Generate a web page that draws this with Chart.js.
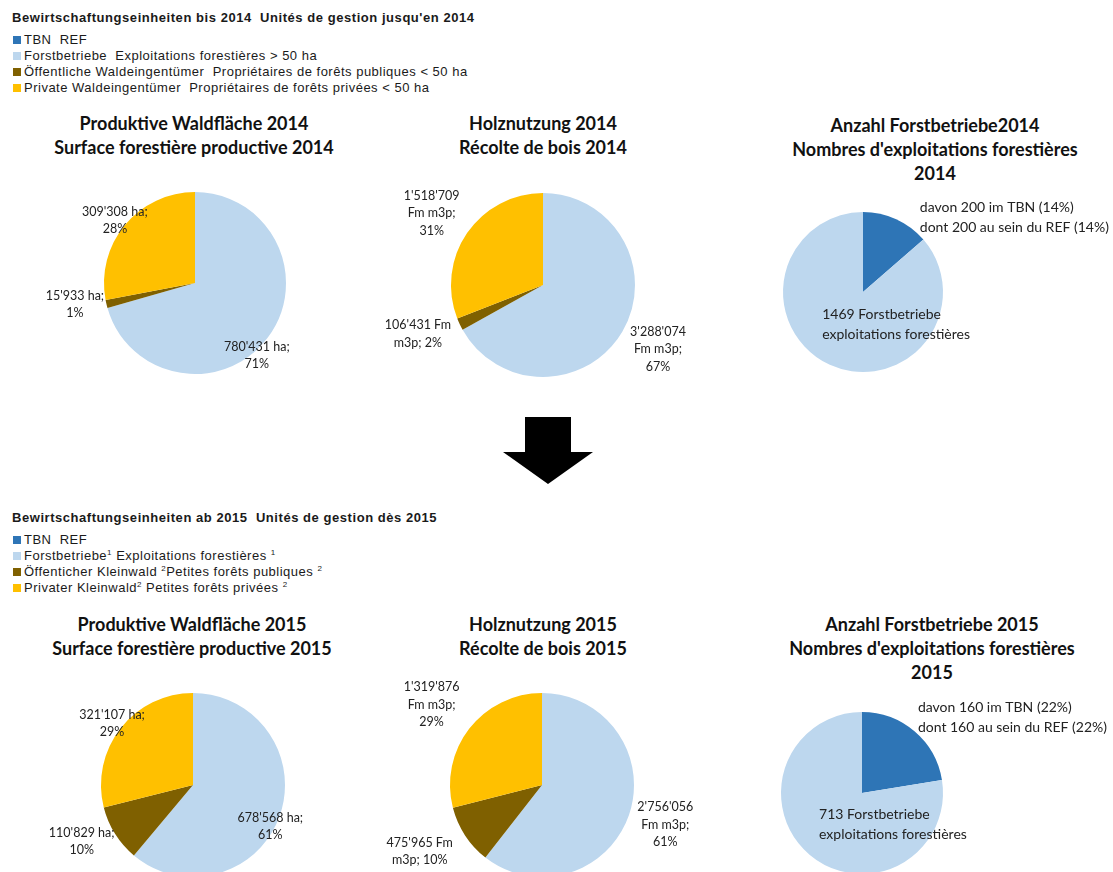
<!DOCTYPE html>
<html><head><meta charset="utf-8">
<script src="https://cdn.jsdelivr.net/npm/chart.js@4"></script>
<style>
html,body{margin:0;padding:0;width:1113px;height:872px;overflow:hidden;background:#fff;}
.leg{position:absolute;left:0;top:0;font-family:"Liberation Sans",Arial,sans-serif;font-size:13px;letter-spacing:0.5px;color:#1a1a1a;}
.lt{position:absolute;left:12px;white-space:pre;font-weight:bold;line-height:14px;letter-spacing:0.55px;}
.row{position:absolute;left:13px;white-space:pre;line-height:14px;}
.sw{display:inline-block;width:8px;height:8px;margin-right:3px;vertical-align:0px;}
sup{font-size:8px;vertical-align:5px;line-height:0;}
.title{position:absolute;font-family:Lato,"Open Sans",sans-serif;font-weight:bold;font-size:18px;color:#111;text-align:center;line-height:24px;white-space:nowrap;transform:translateX(-50%);}
canvas{position:absolute;}
</style></head><body>
<svg style="position:absolute;left:0;top:0" width="1113" height="872"><polygon points="525,417 571,417 571,452 593,452 548,484 503,452 525,452" fill="#000"/></svg>
<script>
// ---- Data ----
const sliceColors = ['#BDD7EE', '#7F6000', '#FFC000'];
const countColors = ['#2E75B6', '#BDD7EE'];
const legendColors = ['#2E75B6', '#BDD7EE', '#7F6000', '#FFC000'];

const legend2014Title = "Bewirtschaftungseinheiten bis 2014  Unités de gestion jusqu'en 2014";
const legend2014Items = [
  'TBN  REF',
  'Forstbetriebe  Exploitations forestières > 50 ha',
  'Öffentliche Waldeingentümer  Propriétaires de forêts publiques < 50 ha',
  'Private Waldeingentümer  Propriétaires de forêts privées < 50 ha'
];
const legend2015Title = "Bewirtschaftungseinheiten ab 2015  Unités de gestion dès 2015";
const legend2015Items = [
  'TBN  REF',
  'Forstbetriebe<sup>1</sup> Exploitations forestières <sup>1</sup>',
  'Öffenticher Kleinwald <sup>2</sup>Petites forêts publiques <sup>2</sup>',
  'Privater Kleinwald<sup>2</sup> Petites forêts privées <sup>2</sup>'
];

const ownerCategories2014 = ['Forstbetriebe', 'Öffentliche Waldeingentümer', 'Private Waldeingentümer'];
const ownerCategories2015 = ['Forstbetriebe', 'Öffenticher Kleinwald', 'Privater Kleinwald'];
const area2014 = [780431, 15933, 309308];
const harvest2014 = [3288074, 106431, 1518709];
const area2015 = [678568, 110829, 321107];
const harvest2015 = [2756056, 475965, 1319876];

const countCategories = ['TBN', 'Forstbetriebe'];
const enterpriseTotal2014 = 1469;
const enterpriseTBN2014 = 200;
const enterpriseTotal2015 = 713;
const enterpriseTBN2015 = 160;

const titles = [
  ['Produktive Waldfläche 2014', 'Surface forestière productive 2014'],
  ['Holznutzung 2014', 'Récolte de bois 2014'],
  ['Anzahl Forstbetriebe2014', "Nombres d'exploitations forestières", '2014'],
  ['Produktive Waldfläche 2015', 'Surface forestière productive 2015'],
  ['Holznutzung 2015', 'Récolte de bois 2015'],
  ['Anzahl Forstbetriebe 2015', "Nombres d'exploitations forestières", '2015']
];

// ---- Legends ----
function makeLegend(title, items, top) {
  const d = document.createElement('div');
  d.className = 'leg';
  let h = `<div class="lt" style="top:${top - 7}px">${title}</div>`;
  const ys = [22, 38, 54, 70];
  items.forEach((it, i) => {
    h += `<div class="row" style="top:${top + ys[i] - 7}px"><span class="sw" style="background:${legendColors[i]}"></span>${it}</div>`;
  });
  d.innerHTML = h;
  document.body.appendChild(d);
}
makeLegend(legend2014Title, legend2014Items, 18);
makeLegend(legend2015Title, legend2015Items, 518);

// ---- Helpers ----
const fmt = n => String(n).replace(/\B(?=(\d{3})+(?!\d))/g, "'");
const pct = (v, arr) => Math.round(v / arr.reduce((a, b) => a + b, 0) * 100) + '%';

function areaLines(vals) {
  return vals.map(v => [fmt(v) + ' ha;', pct(v, vals)]);
}
function harvestLines(vals) {
  return vals.map((v, i) => i === 1
    ? [fmt(v) + ' Fm', 'm3p; ' + pct(v, vals)]
    : [fmt(v), 'Fm m3p;', pct(v, vals)]);
}

const labelPlugin = {
  id: 'sliceLabels',
  afterDatasetsDraw(chart, args, opts) {
    const ctx = chart.ctx;
    const meta = chart.getDatasetMeta(0);
    (opts.items || []).forEach((it, i) => {
      const arc = meta.data[i];
      if (!arc || !it) return;
      const r = arc.outerRadius;
      const x = arc.x + it.dx * r, y = arc.y + it.dy * r;
      ctx.save();
      ctx.font = opts.font;
      ctx.fillStyle = opts.color;
      ctx.textAlign = it.align || 'center';
      ctx.textBaseline = 'middle';
      const n = it.lines.length;
      const y0 = it.align === 'left' ? y : y - (n - 1) * opts.lineHeight / 2;
      it.lines.forEach((ln, k) => ctx.fillText(ln, x, y0 + k * opts.lineHeight));
      ctx.restore();
    });
  }
};

// layout: pie centre, radius, canvas box, title position
const layout = [
  {cx: 195, cy: 283, r: 91, box: [0, 170, 370, 230], tx: 194, ty: 111},
  {cx: 543, cy: 285, r: 92, box: [370, 170, 370, 230], tx: 543, ty: 111},
  {cx: 863, cy: 292, r: 80, box: [740, 170, 373, 230], tx: 935, ty: 113},
  {cx: 193, cy: 785, r: 92, box: [0, 670, 370, 230], tx: 192, ty: 612},
  {cx: 542, cy: 785, r: 92, box: [370, 670, 370, 230], tx: 543, ty: 612},
  {cx: 862, cy: 793, r: 81, box: [740, 670, 373, 230], tx: 932, ty: 612}
];

const smallFont = '12.5px Lato';
const countFont = '14px Lato';

const charts = [
  {labels: ownerCategories2014, data: area2014, colors: sliceColors, font: smallFont, lh: 17,
   items: areaLines(area2014).map((l, i) => ({lines: l, dx: [0.68, -1.32, -0.88][i], dy: [0.80, 0.24, -0.69][i]}))},
  {labels: ownerCategories2014, data: harvest2014, colors: sliceColors, font: smallFont, lh: 17.5,
   items: harvestLines(harvest2014).map((l, i) => ({lines: l, dx: [1.25, -1.36, -1.21][i], dy: [0.70, 0.53, -0.78][i]}))},
  {labels: countCategories, data: [enterpriseTBN2014, enterpriseTotal2014 - enterpriseTBN2014], colors: countColors, font: countFont, lh: 20,
   items: [
     {lines: [`davon ${enterpriseTBN2014} im TBN (${pct(enterpriseTBN2014, [enterpriseTotal2014])})`, `dont ${enterpriseTBN2014} au sein du REF (${pct(enterpriseTBN2014, [enterpriseTotal2014])})`], dx: 0.71, dy: -1.06, align: 'left'},
     {lines: [`${enterpriseTotal2014} Forstbetriebe`, 'exploitations forestières'], dx: -0.51, dy: 0.275, align: 'left'}
   ]},
  {labels: ownerCategories2015, data: area2015, colors: sliceColors, font: smallFont, lh: 17,
   items: areaLines(area2015).map((l, i) => ({lines: l, dx: [0.84, -1.21, -0.88][i], dy: [0.45, 0.61, -0.67][i]}))},
  {labels: ownerCategories2015, data: harvest2015, colors: sliceColors, font: smallFont, lh: 17.5,
   items: harvestLines(harvest2015).map((l, i) => ({lines: l, dx: [1.34, -1.33, -1.20][i], dy: [0.43, 0.72, -0.87][i]}))},
  {labels: countCategories, data: [enterpriseTBN2015, enterpriseTotal2015 - enterpriseTBN2015], colors: countColors, font: countFont, lh: 20,
   items: [
     {lines: [`davon ${enterpriseTBN2015} im TBN (${pct(enterpriseTBN2015, [enterpriseTotal2015])})`, `dont ${enterpriseTBN2015} au sein du REF (${pct(enterpriseTBN2015, [enterpriseTotal2015])})`], dx: 0.69, dy: -1.05, align: 'left'},
     {lines: [`${enterpriseTotal2015} Forstbetriebe`, 'exploitations forestières'], dx: -0.53, dy: 0.27, align: 'left'}
   ]}
];

charts.forEach((c, i) => {
  const L = layout[i];
  const [bx, by, bw, bh] = L.box;
  const t = document.createElement('div');
  t.className = 'title';
  t.style.left = L.tx + 'px';
  t.style.top = L.ty + 'px';
  t.innerHTML = titles[i].join('<br>');
  document.body.appendChild(t);

  const cv = document.createElement('canvas');
  cv.width = bw; cv.height = bh;
  cv.style.left = bx + 'px'; cv.style.top = by + 'px';
  cv.style.width = bw + 'px'; cv.style.height = bh + 'px';
  document.body.appendChild(cv);

  new Chart(cv, {
    type: 'pie',
    data: {labels: c.labels, datasets: [{data: c.data, backgroundColor: c.colors, borderWidth: 0}]},
    options: {
      responsive: false, animation: false, devicePixelRatio: 1,
      layout: {padding: {
        left: L.cx - L.r - bx, right: bx + bw - (L.cx + L.r),
        top: L.cy - L.r - by, bottom: by + bh - (L.cy + L.r)
      }},
      plugins: {
        legend: {display: false}, tooltip: {enabled: false}, title: {display: false},
        sliceLabels: {items: c.items, font: c.font, color: '#222', lineHeight: c.lh}
      }
    },
    plugins: [labelPlugin]
  });
});
</script>
</body></html>
